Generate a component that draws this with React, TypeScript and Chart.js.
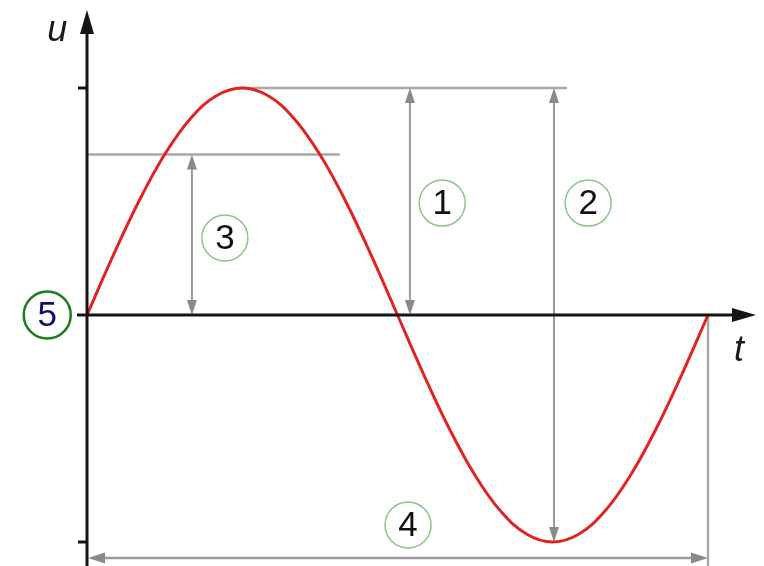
import React, { useEffect, useRef } from 'react';
import { Chart, registerables } from 'chart.js';

Chart.register(...registerables);

// Phase of one period (degrees) and normalised voltage
const phaseDeg = [0, 15, 30, 45, 60, 75, 90, 105, 120, 135, 150, 165, 180, 195, 210, 225, 240, 255, 270, 285, 300, 315, 330, 345, 360];
const voltage = [0, 0.259, 0.5, 0.707, 0.866, 0.966, 1, 0.966, 0.866, 0.707, 0.5, 0.259, 0, -0.259, -0.5, -0.707, -0.866, -0.966, -1, -0.966, -0.866, -0.707, -0.5, -0.259, 0];

// Key levels (normalised)
const peakValue = 1;
const troughValue = -1;
const rmsValue = 0.707;
const periodEnd = 1;

// Reference line extents (time as fraction of period)
const peakLineSpan = [0.245, 0.773];
const rmsLineSpan = [0, 0.407];

// Dimension arrows: label, time, from value, to value
const arrowLabels = ['1', '2', '3'];
const arrowTimes = [0.52, 0.752, 0.169];
const arrowFrom = [0, troughValue, 0];
const arrowTo = [peakValue, peakValue, rmsValue];
const periodArrowLevel = -1.07;

// Circled labels and where they sit (time, value)
const circleLabels = ['1', '2', '3', '4', '5'];
const circleT = [0.572, 0.807, 0.222, 0.517, -0.064];
const circleU = [0.493, 0.493, 0.339, -0.925, 0];

const axisLabels = ['u', 't'];
const axisLabelT = [-0.048, 1.05];
const axisLabelU = [1.25, -0.16];

const diagramPlugin = {
  id: 'diagram',
  beforeDatasetsDraw(chart: any) {
    const ctx = chart.ctx as CanvasRenderingContext2D;
    const px = (t: number) => chart.scales.x.getPixelForValue(t);
    const py = (u: number) => chart.scales.y.getPixelForValue(u);
    ctx.save();
    const gray = '#a8a8a8';
    const headGray = '#8a8a8a';
    ctx.lineCap = 'butt';

    const line = (x1: number, y1: number, x2: number, y2: number, color: string, w: number) => {
      ctx.strokeStyle = color;
      ctx.lineWidth = w;
      ctx.beginPath();
      ctx.moveTo(x1, y1);
      ctx.lineTo(x2, y2);
      ctx.stroke();
    };
    const head = (tx: number, ty: number, dx: number, dy: number, len: number, hw: number, color: string) => {
      // dx,dy = unit direction of arrow pointing to tip
      const bx = tx - dx * len;
      const by = ty - dy * len;
      ctx.fillStyle = color;
      ctx.beginPath();
      ctx.moveTo(tx, ty);
      ctx.lineTo(bx - dy * hw, by + dx * hw);
      ctx.lineTo(bx + dy * hw, by - dx * hw);
      ctx.closePath();
      ctx.fill();
    };

    // reference lines
    line(px(peakLineSpan[0]), py(peakValue), px(peakLineSpan[1]), py(peakValue), gray, 2.5);
    line(px(rmsLineSpan[0]), py(rmsValue), px(rmsLineSpan[1]), py(rmsValue), gray, 2.5);
    line(px(periodEnd), py(0), px(periodEnd), chart.height, gray, 2.5);

    // vertical dimension arrows
    for (let i = 0; i < arrowTimes.length; i++) {
      const x = px(arrowTimes[i]);
      const y1 = py(arrowFrom[i]);
      const y2 = py(arrowTo[i]);
      line(x, y1 - 10, x, y2 + 10, '#9a9a9a', 2);
      head(x, y2, 0, -1, 15, 5, headGray);
      head(x, y1, 0, 1, 15, 5, headGray);
    }
    // period arrow
    {
      const y = py(periodArrowLevel);
      const x1 = px(0) + 1;
      const x2 = px(periodEnd);
      line(x1 + 10, y, x2 - 10, y, '#9a9a9a', 2.5);
      head(x1, y, -1, 0, 17, 5.5, headGray);
      head(x2, y, 1, 0, 17, 5.5, headGray);
    }
    ctx.restore();
  },
  afterDatasetsDraw(chart: any) {
    const ctx = chart.ctx as CanvasRenderingContext2D;
    const px = (t: number) => chart.scales.x.getPixelForValue(t);
    const py = (u: number) => chart.scales.y.getPixelForValue(u);
    ctx.save();
    const black = '#151515';
    const x0 = px(0);
    const y0 = py(0);
    // y axis
    ctx.strokeStyle = black;
    ctx.lineWidth = 3;
    ctx.beginPath();
    ctx.moveTo(x0, chart.height);
    ctx.lineTo(x0, 30);
    ctx.stroke();
    ctx.fillStyle = black;
    ctx.beginPath();
    ctx.moveTo(x0, 10);
    ctx.lineTo(x0 - 7, 34);
    ctx.lineTo(x0 + 7, 34);
    ctx.closePath();
    ctx.fill();
    // ticks
    [peakValue, troughValue].forEach((v) => {
      ctx.beginPath();
      ctx.moveTo(x0 - 9, py(v));
      ctx.lineTo(x0, py(v));
      ctx.stroke();
    });
    // x axis
    ctx.beginPath();
    ctx.moveTo(x0 - 10, y0);
    ctx.lineTo(738, y0);
    ctx.stroke();
    ctx.beginPath();
    ctx.moveTo(756, y0);
    ctx.lineTo(732, y0 - 7);
    ctx.lineTo(732, y0 + 7);
    ctx.closePath();
    ctx.fill();

    // axis labels
    ctx.font = 'italic 36px "Liberation Sans", Arial, sans-serif';
    ctx.textAlign = 'center';
    ctx.textBaseline = 'middle';
    ctx.fillStyle = '#1a1a1a';
    for (let i = 0; i < axisLabels.length; i++) {
      ctx.fillText(axisLabels[i], px(axisLabelT[i]), py(axisLabelU[i]));
    }

    // circled labels
    for (let i = 0; i < circleLabels.length; i++) {
      const cx = px(circleT[i]);
      const cy = py(circleU[i]);
      const isFive = circleLabels[i] === '5';
      ctx.fillStyle = '#ffffff';
      ctx.beginPath();
      ctx.arc(cx, cy, isFive ? 23.5 : 23, 0, Math.PI * 2);
      ctx.fill();
      ctx.strokeStyle = isFive ? '#1e7d1e' : '#8cc48c';
      ctx.lineWidth = isFive ? 2.5 : 1.5;
      ctx.stroke();
      ctx.fillStyle = isFive ? '#101070' : '#111111';
      ctx.font = '35px "Liberation Sans", Arial, sans-serif';
      ctx.fillText(circleLabels[i], cx, cy + 1.5);
    }
    ctx.restore();
  },
};

export default function App() {
  const ref = useRef<HTMLCanvasElement | null>(null);
  useEffect(() => {
    if (!ref.current) return;
    const chart = new Chart(ref.current, {
      type: 'line',
      data: {
        datasets: [
          {
            data: phaseDeg.map((d, i) => ({ x: d / 360, y: voltage[i] })),
            borderColor: '#e02424',
            borderWidth: 3,
            pointRadius: 0,
            tension: 0.4,
            fill: false,
          },
        ],
      },
      options: {
        animation: false,
        responsive: false,
        layout: { padding: 0 },
        scales: {
          x: { type: 'linear', display: false, min: -87 / 621, max: 677 / 621 },
          y: { type: 'linear', display: false, min: -251 / 227, max: 315 / 227 },
        },
        plugins: { legend: { display: false }, tooltip: { enabled: false } },
        events: [],
      },
      plugins: [diagramPlugin],
    });
    return () => chart.destroy();
  }, []);
  return (
    <div style={{ position: 'fixed', left: 0, top: 0, width: 764, height: 566, background: '#fff' }}>
      <canvas ref={ref} width={764} height={566} style={{ width: 764, height: 566, display: 'block' }} />
    </div>
  );
}
